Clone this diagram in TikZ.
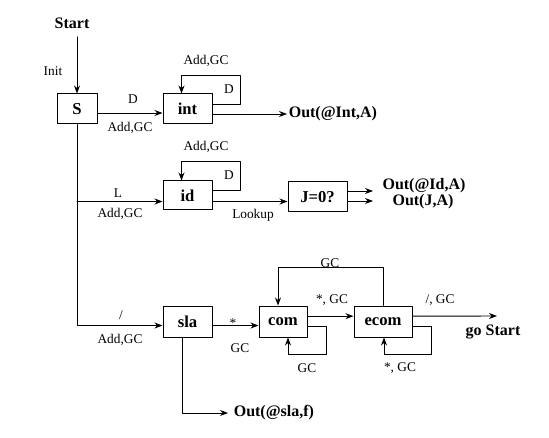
\documentclass[tikz,border=0pt]{standalone}
\usepackage{fontspec}
\setmainfont{Liberation Serif}
\usetikzlibrary{arrows.meta}
\begin{document}
\begin{tikzpicture}[line cap=round,line join=round,>={Stealth[length=6pt,width=4.5pt]},x=.75pt,y=-.75pt,line width=.7pt,
	etat/.style={draw,line width=.75pt,minimum height=22.5pt,inner sep=0pt,font=\fontsize{12.5}{14}\selectfont\bfseries},
	etiq/.style={inner sep=0pt,font=\fontsize{10}{12}\selectfont},
	gras/.style={inner sep=1pt,font=\fontsize{12}{14}\selectfont\bfseries}]
		% Limites du dessin
		\useasboundingbox (0,0) rectangle (549,438);
		
		% Etats
		\node[etat,minimum width=30pt] (S) at (77,109) {S};
		\node[etat,minimum width=36.75pt] (int) at (187.5,109) {int};
		\node[etat,minimum width=36.75pt,minimum height=21.75pt] (id) at (187.5,195.5) {id};
		\node[etat,minimum width=44.25pt] (J) at (317.5,197) {J=0?};
		\node[etat,minimum width=36.75pt,minimum height=23.25pt] (sla) at (187.5,321.5) {sla};
		\node[etat,minimum width=36pt,minimum height=23.25pt] (com) at (283,321.5) {com};
		\node[etat,minimum width=43.5pt,minimum height=23.25pt] (ecom) at (383,321.5) {ecom};
		
		% Sorties
		\node[gras] (start) at (72,23) {Start};
		\node[gras,anchor=west] (outint) at (287,114) {Out(@Int,A)};
		\node[gras] (outid) at (424,186) {Out(@Id,A)};
		\node[gras] (outj) at (423,202) {Out(J,A)};
		\node[gras] (gostart) at (493,332) {go Start};
		\node[gras,anchor=west,inner sep=4pt] (outsla) at (228,413) {Out(@sla,f)};
		\coordinate (f1) at (373,191);
		\coordinate (f2) at (373,201);
		\coordinate (fin) at (497,316);
		
		% Transitions
		\draw[->] ([yshift=-5pt]start.south -| S.north) -- (S.north);
		\draw[->] ([yshift=-3pt]S.east) -- ([yshift=-3pt]S.east -| int.west);
		\draw[->] (int.east |- outint.west) -- (outint.west);
		\draw[->] ([yshift=3.75pt]int.east) -- ++(28,0) -- ++(0,-29) -| ([xshift=-4.5pt]int.north);
		\draw[->] (S.south) |- ([yshift=-3pt]sla.west);
		\draw[->] ([yshift=-4.5pt]id.west -| S.south) -- ([yshift=-4.5pt]id.west);
		\draw[->] ([yshift=3.75pt]id.east) -- ++(28,0) -- ++(0,-29) -| ([xshift=-4.5pt]id.north);
		\draw[->] ([yshift=-4.5pt]id.east) -- ([yshift=-4.5pt]id.east -| J.west);
		\draw[->] (J.east |- f1) -- (f1);
		\draw[->] (J.east |- f2) -- (f2);
		\draw[->] ([yshift=-3pt]sla.west -| sla.east) -- ([yshift=-3pt]com.west);
		\draw[->] ([yshift=4pt]com.east) -- ([yshift=4pt]ecom.west);
		\draw[->] ([yshift=4pt]ecom.east) -- (fin);
		\draw[->] (ecom.north) -- ++(0,-38) -| ([xshift=-3.75pt]com.north);
		\draw[->] ([yshift=-3.75pt]com.east) -- ++(19,0) -- ++(0,28) -| ([xshift=3.75pt]com.south);
		\draw[->] ([yshift=-3.75pt]ecom.east) -- ++(19,0) -- ++(0,28) -| ([xshift=.75pt]ecom.south);
		\draw[->] ([xshift=-3.75pt]sla.south) |- (outsla.west);
		
		% Etiquettes
		\node[etiq] (linit) at (53,71) {Init};
		\node[etiq] (lD) at (133,99) {D};
		\node[etiq] (lAdd1) at (130,128) {Add,GC};
		\node[etiq] (lAdd2) at (206,61) {Add,GC};
		\node[etiq] (lD2) at (229,89) {D};
		\node[etiq] (lAdd3) at (206,147) {Add,GC};
		\node[etiq] (lD3) at (229,175) {D};
		\node[etiq] (lL) at (118,193) {L};
		\node[etiq] (lAdd4) at (120,214) {Add,GC};
		\node[etiq] (llookup) at (253,215) {Lookup};
		\node[etiq] (lslash) at (121,315) {/};
		\node[etiq] (lAdd5) at (120,340) {Add,GC};
		\node[etiq] (lstar) at (233,323) {*};
		\node[etiq] (lGC1) at (240,348) {GC};
		\node[etiq] (lGC2) at (330,263) {GC};
		\node[etiq] (lstarGC1) at (332,300) {*, GC};
		\node[etiq] (lGC3) at (307,368) {GC};
		\node[etiq] (lstarGC2) at (400,368) {*, GC};
		\node[etiq] (lslashGC) at (440,300) {/, GC};
	\end{tikzpicture}
\end{document}
